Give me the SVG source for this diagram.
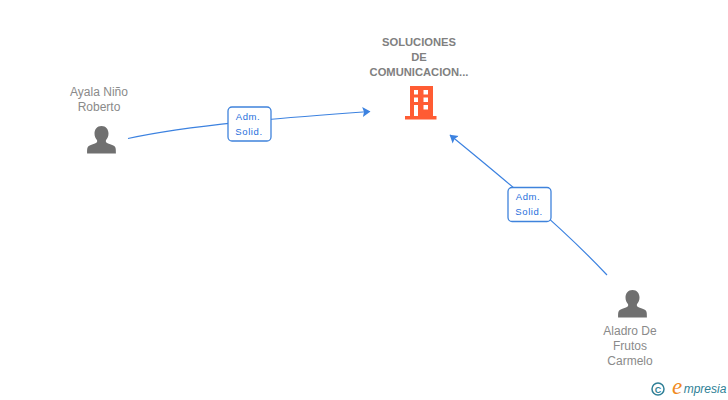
<svg xmlns="http://www.w3.org/2000/svg" width="728" height="400" viewBox="0 0 728 400">
<style>
text{font-family:"Liberation Sans",Arial,sans-serif;text-anchor:middle}
.n{font-size:12px;fill:#8a8a8a}
.b{font-size:11.200px;font-weight:700;fill:#808080}
.l{font-size:9.500px;fill:#1f6fdc;letter-spacing:.6px}
.c{fill:none;stroke:#3c82e0;stroke-width:1.200}
.box{fill:#fff;stroke:#3f83dc;stroke-width:1.300}
.p{fill:#707070}
</style>
<defs>
<marker id="a" markerWidth="9" markerHeight="10" refX="7.500" refY="5" orient="auto" markerUnits="userSpaceOnUse"><path d="M0 0L8 5L0 10L1.500 5Z" fill="#3c82e0"/></marker>
<path id="u" d="M0 0c-4.500 0-7 3.500-7 7.500c0 2.800 1 5 2.600 6.800v1.700c-1 1.300-4.200 2.200-7.400 3.400c-2.600 1-2.600 3-2.600 8.100h28.800c0-5.100 0-7.100-2.600-8.100c-3.200-1.200-6.400-2.100-7.400-3.400v-1.700c1.600-1.800 2.600-4 2.600-6.800c0-4-2.500-7.500-7-7.500z"/>
</defs>
<g id="connectors">
<path class="c" marker-end="url(#a)" d="M128 138.500C190 125 280 118 370 111.500"/>
<path class="c" marker-end="url(#a)" d="M607 275C560 225 505 180 450 135"/>
</g>
<g id="edge-label-1"><rect class="box" x="228" y="107" width="43" height="34" rx="4"/><text class="l" x="248" y="120">Adm.</text><text class="l" x="249" y="135">Solid.</text></g>
<g id="edge-label-2"><rect class="box" x="508" y="187.500" width="43" height="34" rx="4"/><text class="l" x="528" y="200">Adm.</text><text class="l" x="529" y="215">Solid.</text></g>
<g id="node-company">
<text class="b" x="419" y="46">SOLUCIONES</text><text class="b" x="419" y="61">DE</text><text class="b" x="419" y="76">COMUNICACION...</text>
<path fill="#ff5c33" fill-rule="evenodd" d="M410 86h23v30h3.500v3.500h-31.500v-3.500h5zM414 90v4.500h4v-4.500zM423.500 90v4.500h4.500v-4.500zM414 97.500v4.500h4v-4.500zM423.500 97.500v4.500h4.500v-4.500zM414 105v11h4v-11zM423.500 105v4.500h4.500v-4.500z"/>
</g>
<g id="node-ayala"><text class="n" x="99" y="96">Ayala Niño</text><text class="n" x="99" y="111">Roberto</text><use class="p" href="#u" x="101.500" y="126"/></g>
<g id="node-aladro"><use class="p" href="#u" x="632.500" y="290"/><text class="n" x="630" y="335">Aladro De</text><text class="n" x="630" y="350">Frutos</text><text class="n" x="630" y="365">Carmelo</text></g>
<g id="watermark">
<circle cx="658" cy="389" r="6" fill="none" stroke="#2f7f96" stroke-width="1.500"/>
<text x="658" y="392.500" style="font-size:9px;font-weight:700;fill:#2f7f96">C</text>
<text x="677" y="394" style="font-family:'Liberation Serif',serif;font-size:23px;font-style:italic;fill:#f08a1d">e</text>
<text x="705" y="393" style="font-size:12px;font-style:italic;fill:#2f7f96">mpresia</text>
</g>
</svg>
